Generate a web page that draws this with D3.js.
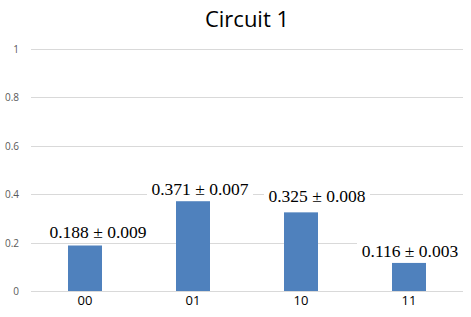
<!DOCTYPE html>
<html><head><meta charset="utf-8">
<script src="https://cdn.jsdelivr.net/npm/d3@7"></script>
<style>body{margin:0;background:#fff}svg{display:block}</style>
</head><body>
<script>
const categories = ["00", "01", "10", "11"];
const values = [0.188, 0.371, 0.325, 0.116];
const errors = [0.009, 0.007, 0.008, 0.003];
const yTicks = [0, 0.2, 0.4, 0.6, 0.8, 1];
const title = "Circuit 1";

const W = 471, H = 317;
const labelDx = [13, 7, 16, 1];
const labelDy = [-8, -6, -10, -6];
const svg = d3.select("body").append("svg").attr("width", W).attr("height", H);

const x = d3.scaleBand().domain(categories).range([31, 463]);
const y = d3.scaleLinear().domain([0, 1]).range([291, 49]);

svg.append("text").attr("x", 247).attr("y", 27).attr("text-anchor", "middle")
  .attr("font-family", "Open Sans, sans-serif").attr("font-size", 22).attr("fill", "#000").text(title);

const grid = svg.append("g");
grid.selectAll("line").data(yTicks).join("line")
  .attr("x1", 31).attr("x2", 463)
  .attr("y1", d => Math.round(y(d)) + 0.5).attr("y2", d => Math.round(y(d)) + 0.5)
  .attr("stroke", "#D9D9D9").attr("stroke-width", 1);
grid.selectAll("text").data(yTicks).join("text")
  .attr("x", 19).attr("y", d => y(d) + 4).attr("text-anchor", "end")
  .attr("font-family", "Open Sans, sans-serif").attr("font-size", 10).attr("fill", "#595959")
  .text(d => d3.format("~g")(d));

const bw = 34;
svg.selectAll("rect.bar").data(values).join("rect").attr("class", "bar")
  .attr("x", (d, i) => x(categories[i]) + x.bandwidth() / 2 - bw / 2)
  .attr("width", bw)
  .attr("y", d => y(d)).attr("height", d => y(0) - y(d))
  .attr("fill", "#4F81BD");

svg.selectAll("text.xl").data(categories).join("text").attr("class", "xl")
  .attr("x", d => x(d) + x.bandwidth() / 2).attr("y", 305).attr("text-anchor", "middle")
  .attr("font-family", "Open Sans, sans-serif").attr("font-size", 13).attr("fill", "#000").text(d => d);

const lg = svg.selectAll("g.lab").data(values).join("g").attr("class", "lab")
  .attr("transform", (d, i) => `translate(${x(categories[i]) + x.bandwidth() / 2 + labelDx[i]},${y(d) + labelDy[i]})`);
lg.append("rect").attr("x", -53).attr("width", 106).attr("y", -17).attr("height", 22).attr("fill", "#fff");
lg.append("text").attr("text-anchor", "middle")
  .attr("font-family", "Liberation Serif, Times New Roman, serif").attr("font-size", 17.5).attr("fill", "#000")
  .text((d, i) => `${d.toFixed(3)} ± 0${errors[i].toFixed(3).slice(1)}`);
</script>
</body></html>
